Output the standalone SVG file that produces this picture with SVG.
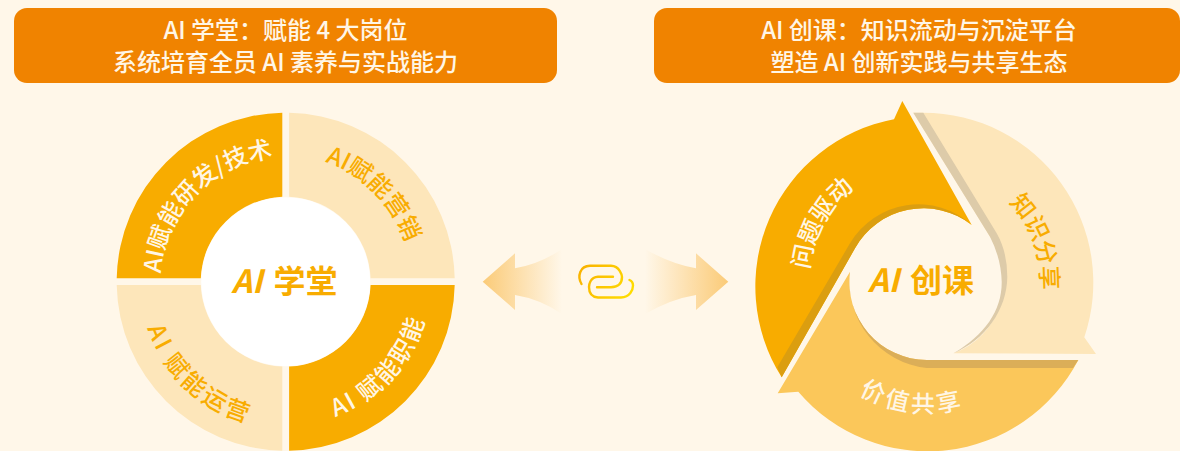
<svg xmlns="http://www.w3.org/2000/svg" width="1180" height="451" viewBox="0 0 1180 451">
<style>
text{font-family:"Noto Sans CJK SC","Noto Sans",sans-serif}
.hdr{fill:#F08300}
.ht{fill:#FFF6E6;font-size:24px;font-weight:500;text-anchor:middle}
.amber{fill:#F8AC00}.light{fill:#FDE6BA}.mid{fill:#FBC75A}
.c{font-size:32px;font-weight:600;fill:#F8AC00;text-anchor:middle}
.i{font-style:italic}
.w{fill:#FFF6E6;font-size:24px;font-weight:500;text-anchor:middle}
.o{fill:#F8AC00;font-size:24px;font-weight:500;text-anchor:middle}
.link{fill:none;stroke:url(#lg);stroke-width:2.4;stroke-linecap:round}
</style>
<defs>
<linearGradient id="al" gradientUnits="userSpaceOnUse" x1="483" y1="0" x2="562" y2="0"><stop offset="0" stop-color="#FBCB78"/><stop offset="1" stop-color="#FBCB78" stop-opacity="0"/></linearGradient>
<linearGradient id="ar" gradientUnits="userSpaceOnUse" x1="728" y1="0" x2="645" y2="0"><stop offset="0" stop-color="#FBCB78"/><stop offset="1" stop-color="#FBCB78" stop-opacity="0"/></linearGradient>
<linearGradient id="lg" gradientUnits="userSpaceOnUse" x1="578" y1="266" x2="634" y2="298"><stop offset="0" stop-color="#F9B000"/><stop offset="1" stop-color="#FFE000"/></linearGradient>
<path id="cw125" d="M0 125A125 125 0 0 1 0 -125A125 125 0 0 1 0 125"/>
<path id="cw126" d="M0 126A126 126 0 0 1 0 -126A126 126 0 0 1 0 126"/>
<path id="ccw144" d="M0 -144A144 144 0 0 0 0 144A144 144 0 0 0 0 -144"/>
<path id="ccw146" d="M0 -146A146 146 0 0 0 0 146A146 146 0 0 0 0 -146"/>
<path id="cw118" d="M0 118A118 118 0 0 1 0 -118A118 118 0 0 1 0 118"/>
<path id="cw114" d="M0 114A114 114 0 0 1 0 -114A114 114 0 0 1 0 114"/>
<path id="ccw131" d="M0 -131A131 131 0 0 0 0 131A131 131 0 0 0 0 -131"/>
</defs>
<rect width="1180" height="451" fill="#FFF7E9"/>
<g id="header-left"><rect class="hdr" x="14" y="8" width="543" height="75" rx="13"/>
<text class="ht" x="285.500" y="38.500">AI 学堂：赋能 4 大岗位</text>
<text class="ht" x="285.500" y="70.500">系统培育全员 AI 素养与实战能力</text></g>
<g id="header-right"><rect class="hdr" x="654" y="8" width="526" height="75" rx="13"/>
<text class="ht" x="919" y="38.500">AI 创课：知识流动与沉淀平台</text>
<text class="ht" x="919" y="70.500">塑造 AI 创新实践与共享生态</text></g>
<g id="ai-xuetang">
<g id="seg-rd"><path class="amber" d="M116.700 278.300A169 169 0 0 1 282.300 112.700V196.800A85 85 0 0 0 200.800 278.300Z"/>
<g transform="translate(285.700 281.700) rotate(-46)"><text class="w"><textPath href="#cw125" startOffset="50%">AI赋能研发/技术</textPath></text></g></g>
<g id="seg-mk"><path class="light" d="M289.100 112.700A169 169 0 0 1 454.700 278.300H370.600A85 85 0 0 0 289.100 196.800Z"/>
<g transform="translate(285.700 281.700) rotate(45)"><text class="o"><textPath href="#cw126" startOffset="50%">AI赋能营销</textPath></text></g></g>
<g id="seg-fn"><path class="amber" d="M454.700 285.100A169 169 0 0 1 289.100 450.700V366.600A85 85 0 0 0 370.600 285.100Z"/>
<g transform="translate(285.700 281.700) rotate(-47.500)"><text class="w" letter-spacing="2"><textPath href="#ccw144" startOffset="50%">AI 赋能职能</textPath></text></g></g>
<g id="seg-op"><path class="light" d="M282.300 450.700A169 169 0 0 1 116.700 285.100H200.800A85 85 0 0 0 282.300 366.600Z"/>
<g transform="translate(285.700 281.700) rotate(43)"><text class="o" letter-spacing="3"><textPath href="#ccw146" startOffset="50%">AI 赋能运营</textPath></text></g></g>
<circle cx="285.700" cy="281.700" r="84.500" fill="#fff"/>
<text class="c" x="284.500" y="293"><tspan class="i">AI</tspan><tspan dx="11">学堂</tspan></text>
</g>
<g id="connectors">
<path fill="url(#al)" d="M482.700 281.700L515 253.300V268.300Q540 264 562 249V314Q540 299 515 295V310Z"/>
<path fill="url(#ar)" d="M728.300 281.700L696 253.300V268.300Q671 264 645 249V314Q671 299 696 295V310Z"/>
<path class="link" d="M581.500 284C577 276 580 266 590 265.800H611C620 266 622 276 622 277C622 285 617 287 611 287.300H597"/>
<path class="link" d="M613 276.700H598C590 277 589 285 589 287C589 293 592 297 598 297.500H621C630 297 633 290 633 285.500C633 283 632 281 629.500 280"/>
</g>
<g id="ai-chuangke">
<g id="seg-wenti"><path class="amber" d="M894 119.300L902.300 101L971.700 225A78.300 78.300 0 0 0 855 248.300L781.700 377.300A170 170 0 0 1 894 119.300Z"/>
<path fill="#DB9E10" d="M777.300 367.300L850 243.300A79.400 79.400 0 0 1 971.700 225A78.300 78.300 0 0 0 855 248.300L781.700 377.300Z"/>
<g transform="translate(926.700 281.700) rotate(-61)"><text class="w"><textPath href="#cw118" startOffset="50%">问题驱动</textPath></text></g></g>
<g id="seg-zhishi"><path class="light" d="M913.300 112.700H923.300A170 170 0 0 1 1084.300 337.300L1096 354L953.300 353.300A77 77 0 0 0 990 236.700Z"/>
<path fill="#DDCBA9" d="M913.300 112.700H923.300L996.700 233.300Q1007.300 252 1007.300 276.700C1007 310 985 340 953.300 353.300C985 335 1002 310 1001.700 281.700Q1001 258 990 236.700Z"/>
<g transform="translate(926.700 281.700) rotate(70)"><text class="o"><textPath href="#cw114" startOffset="50%">知识分享</textPath></text></g></g>
<g id="seg-jiazhi"><path class="mid" d="M850 271.700L777.700 393.300L798.300 391.700A170 170 0 0 0 1078.300 360H926.700A78 78 0 0 1 850 271.700Z"/>
<path fill="#DBAE58" d="M850 271.700A78 78 0 0 0 926.700 360H1078.300L1073 368H926.700A87 87 0 0 1 850 271.700Z"/>
<g transform="translate(926.700 281.700) rotate(7)"><text class="w" letter-spacing="3.500"><textPath href="#ccw131" startOffset="50%">价值共享</textPath></text></g></g>
<text class="c" x="921" y="292"><tspan class="i">AI</tspan><tspan dx="11">创课</tspan></text>
</g>
</svg>
